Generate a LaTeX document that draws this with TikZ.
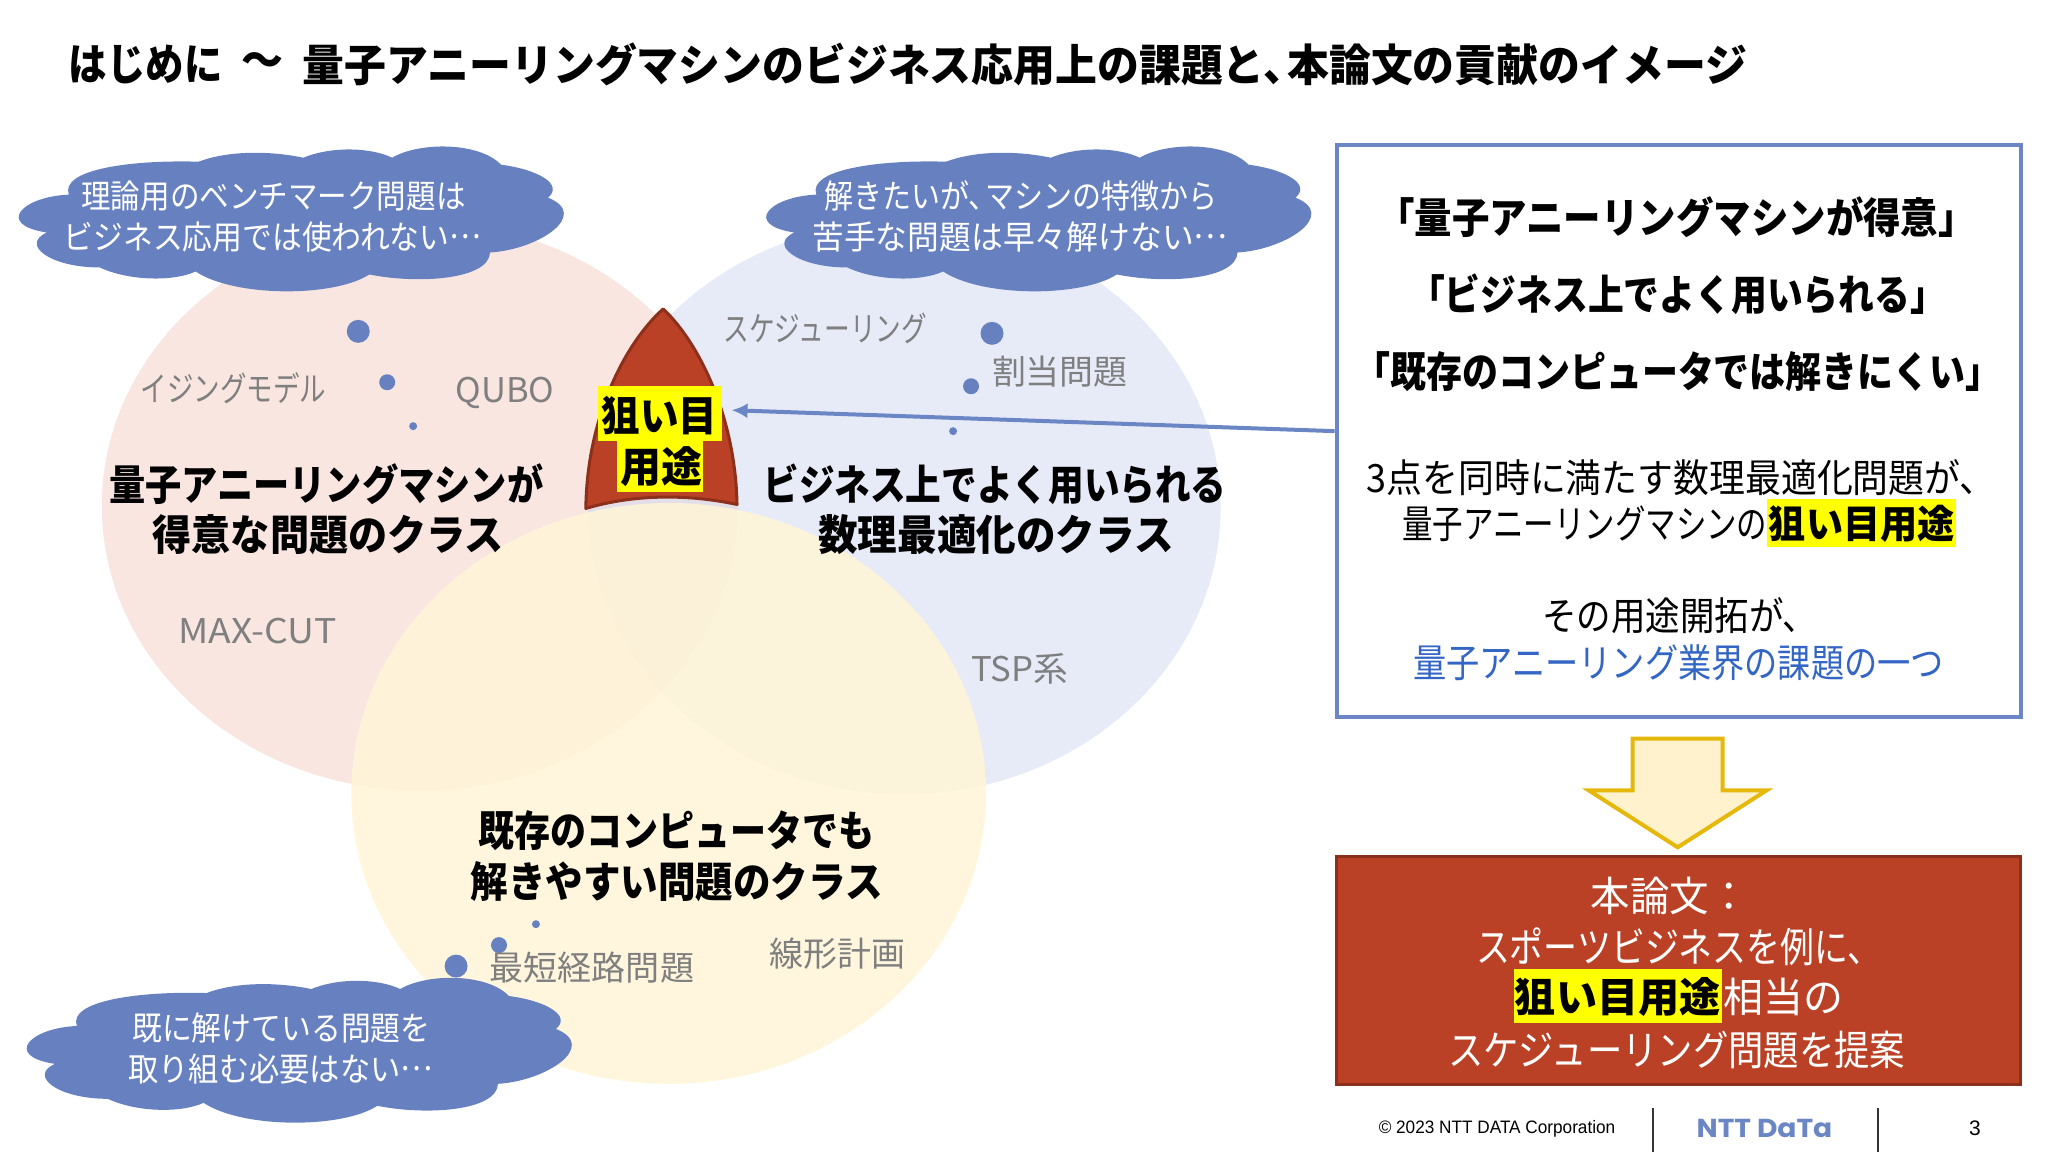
\documentclass[tikz,border=0pt]{standalone}
\usepackage{fontspec}
\usepackage{graphicx}
\usetikzlibrary{arrows.meta}
\setmainfont{Noto Sans CJK JP}
\newfontfamily\latinf{Liberation Sans}
\newfontfamily\logof{Poppins}
\newdimen\pxu \pxu=.499pt
\newcommand\fw[2]{\resizebox{#1\pxu}{\height}{#2}}
\newcommand\sz[1]{\fontsize{#1}{#1}\selectfont}
\newcommand\tc{\kern-.42em}
\newcommand\cdotsup{\raisebox{.32em}{…}}
\definecolor{cloudblue}{HTML}{6781C0}
\definecolor{boxblue}{HTML}{6A86C4}
\definecolor{redfill}{HTML}{BA4125}
\definecolor{redline}{HTML}{8C301C}
\definecolor{hlyellow}{HTML}{FFFF00}
\definecolor{graytext}{HTML}{7F7F7F}
\definecolor{linkblue}{HTML}{3366C4}
\tikzset{
  txt/.style={inner sep=0pt,outer sep=0pt,anchor=center,yshift=.5pt},
  graylab/.style={txt,text=graytext},
  whitelab/.style={txt,text=white},
  dot/.style={fill=cloudblue,draw=none},
  hl/.style={fill=hlyellow,draw=none,inner sep=0pt},
  cloudshape/.style={fill=cloudblue,draw=none},
  vennr/.style={fill={rgb,255:red,243;green,205;blue,195},fill opacity=.5},
  vennb/.style={fill={rgb,255:red,207;green,215;blue,241},fill opacity=.5},
  venny/.style={fill={rgb,255:red,255;green,245;blue,216},fill opacity=.88},
}
\newcommand\cloudat[2]{%
  \path[cloudshape,shift={(#1,#2)}] (69,195)
    .. controls (22,197) and (-5,225) .. (47,233)
    .. controls (20,245) and (50,268) .. (100,268)
    .. controls (130,282) and (175,282) .. (196,272)
    .. controls (235,298) and (335,298) .. (370,275)
    .. controls (420,285) and (490,280) .. (491,253)
    .. controls (540,250) and (592,215) .. (549,198)
    .. controls (565,185) and (540,170) .. (502,165)
    .. controls (480,142) and (420,142) .. (393,158)
    .. controls (370,147) and (330,147) .. (304,158)
    .. controls (265,150) and (225,152) .. (199,162)
    .. controls (130,160) and (60,170) .. (69,195) -- cycle;}
\begin{document}
\begin{tikzpicture}[x=.499pt,y=-.499pt]
\useasboundingbox (0,0) rectangle (2052.1,1154.3);
% venn
\path[vennr] (421,507) ellipse [x radius=319,y radius=285];
\path[vennb] (906,509) ellipse [x radius=317,y radius=287];
\path[venny] (670,795) ellipse [x radius=318,y radius=291];
% title
\node[txt] (titlea) at (146,66) {\fw{154}{\sz{22}\bfseries はじめに}};
\node[txt] (titleb) at (263,66) {\fw{42}{\sz{22}\bfseries ～}};
\node[txt] (titlec) at (1027,66) {\fw{1447}{\sz{22}\bfseries 量子アニーリングマシンのビジネス応用上の課題と、\tc 本論文の貢献のイメージ}};
% clouds
\cloudat{0}{0}
\cloudat{749}{0}
\cloudat{8}{833}
\node[whitelab] (c1a) at (274,197) {\fw{385}{\sz{16.5}理論用のベンチマーク問題は}};
\node[whitelab] (c1b) at (273,238) {\fw{418}{\sz{16.5}ビジネス応用では使われない\cdotsup}};
\node[whitelab] (c2a) at (1023,197) {\fw{394}{\sz{16.5}解きたいが、\tc マシンの特徴から}};
\node[whitelab] (c2b) at (1022,238) {\fw{416}{\sz{16.5}苦手な問題は早々解けない\cdotsup}};
\node[whitelab] (c3a) at (282,1031) {\fw{299}{\sz{16.5}既に解けている問題を}};
\node[whitelab] (c3b) at (281,1072) {\fw{305}{\sz{16.5}取り組む必要はない\cdotsup}};
% dots
\path[dot] (359,332) circle [radius=11.5];
\path[dot] (388,383) circle [radius=8];
\path[dot] (414,427) circle [radius=4];
\path[dot] (994,334) circle [radius=11.5];
\path[dot] (973,387) circle [radius=8];
\path[dot] (955,432) circle [radius=4];
\path[dot] (537,926) circle [radius=4];
\path[dot] (500,947) circle [radius=8];
\path[dot] (457,968) circle [radius=11.5];
% gray labels
\node[graylab] (g1) at (234,390) {\fw{186}{\sz{17}イジングモデル}};
\node[graylab] (g2) at (506,395) {\fw{99}{\sz{17}QUBO}};
\node[graylab] (g3) at (258,633) {\fw{159}{\sz{17}MAX-CUT}};
\node[graylab] (g4) at (827,330) {\fw{204}{\sz{17}スケジューリング}};
\node[graylab] (g5) at (1062,373) {\fw{136}{\sz{17}割当問題}};
\node[graylab] (g6) at (1022,671) {\fw{97}{\sz{17}TSP系}};
\node[graylab] (g7) at (593,971) {\fw{205}{\sz{17}最短経路問題}};
\node[graylab] (g8) at (839,957) {\fw{136}{\sz{17}線形計画}};
% bold class labels
\node[txt] (r1) at (327,486) {\fw{435}{\sz{21}\bfseries 量子アニーリングマシンが}};
\node[txt] (r2) at (329,537) {\fw{352}{\sz{21}\bfseries 得意な問題のクラス}};
\node[txt] (b1) at (997,486) {\fw{464}{\sz{21}\bfseries ビジネス上でよく用いられる}};
\node[txt] (b2) at (998,537) {\fw{356}{\sz{21}\bfseries 数理最適化のクラス}};
\node[txt] (y1) at (678,833) {\fw{397}{\sz{21}\bfseries 既存のコンピュータでも}};
\node[txt] (y2) at (678,884) {\fw{413}{\sz{21}\bfseries 解きやすい問題のクラス}};
% target shape
\path[fill=redfill,draw=redline,line width=1.5pt,line join=round] (664.5,309.5)
  .. controls (702,345) and (737,420) .. (738.5,505.5)
  .. controls (690,495) and (635,495) .. (587,509.5)
  .. controls (588,420) and (625,345) .. (664.5,309.5) -- cycle;
\node[hl,minimum width=62pt,minimum height=27.5pt] (hla) at (661,414.5) {};
\node[hl,minimum width=43pt,minimum height=25.5pt] (hlb) at (661,467.5) {};
\node[txt] (ta) at (661,417) {\fw{116}{\sz{21}\bfseries 狙い目}};
\node[txt] (tb) at (663,469) {\fw{82}{\sz{21}\bfseries 用途}};
% right box
\node[draw=boxblue,fill=white,line width=2pt,inner sep=0pt,minimum width=342pt,minimum height=286pt] (rbox) at (1682,432) {};
\node[txt] (q1) at (1680,219) {\fw{568}{\sz{21}\bfseries \tc「量子アニーリングマシンが得意」\tc}};
\node[txt] (q2) at (1681,296) {\fw{508}{\sz{21}\bfseries \tc「ビジネス上でよく用いられる」\tc}};
\node[txt] (q3) at (1681,373) {\fw{618}{\sz{21}\bfseries \tc「既存のコンピュータでは解きにくい」\tc}};
\node[txt] (l1) at (1677,480) {\fw{615}{\sz{19.5}3点を同時に満たす数理最適化問題が、\tc}};
\node[txt] (l2) at (1588,526) {\fw{366}{\sz{19.5}量子アニーリングマシンの}};
\node[hl,minimum width=94.5pt,minimum height=24pt] (l2h) at (1865.5,524) {};
\node[txt] (l2b) at (1865.5,526) {\fw{186}{\sz{19.5}\bfseries 狙い目用途}};
\node[txt] (l3) at (1676,618) {\fw{261}{\sz{19.5}その用途開拓が、\tc}};
\node[txt,text=linkblue] (l4) at (1682,665) {\fw{532}{\sz{19.5}量子アニーリング業界の課題の一つ}};
% arrow
\coordinate (arrowtip) at (733,411);
\draw[boxblue,line width=2pt,-{Latex[length=8pt,width=7.5pt]}] (rbox.west) -- (arrowtip);
% down arrow
\path[fill={rgb,255:red,255;green,242;blue,204},draw={rgb,255:red,229;green,184;blue,11},line width=2pt,miter limit=10]
  (1636,740) -- (1726,740) -- (1726,792) -- (1770,792) -- (1681,849) -- (1592,792) -- (1636,792) -- cycle;
% red box
\node[fill=redfill,draw=redline,line width=1.5pt,inner sep=0pt,minimum width=342pt,minimum height=114pt] (pbox) at (1682,972) {};
\node[whitelab] (p1) at (1673,899) {\fw{158}{\sz{20.5}本論文：}};
\node[whitelab] (p2) at (1675,950) {\fw{392}{\sz{20.5}スポーツビジネスを例に、\tc}};
\node[hl,minimum width=104pt,minimum height=27pt] (p3h) at (1621,998) {};
\node[txt] (p3a) at (1621,1000) {\fw{206}{\sz{20.5}\bfseries 狙い目用途}};
\node[whitelab] (p3b) at (1787,1000) {\fw{120}{\sz{20.5}相当の}};
\node[whitelab] (p4) at (1680,1053) {\fw{458}{\sz{20.5}スケジューリング問題を提案}};
% footer
\node[txt] (copy) at (1500,1132) {\fw{237}{\latinf\sz{9}© 2023 NTT DATA Corporation}};
\coordinate (s1t) at (1656,1110); \coordinate (s1b) at (1656,1154);
\coordinate (s2t) at (1882,1110); \coordinate (s2b) at (1882,1154);
\draw[black!80,line width=.8pt] (s1t) -- (s1b);
\draw[black!80,line width=.8pt] (s2t) -- (s2b);
\node[txt,text=boxblue] (logo) at (1768,1132) {\fw{136}{\logof\sz{13}\bfseries NTT DaTa}};
\node[txt] (pg) at (1979,1132) {\latinf\sz{10.5}3};
\end{tikzpicture}
\end{document}
